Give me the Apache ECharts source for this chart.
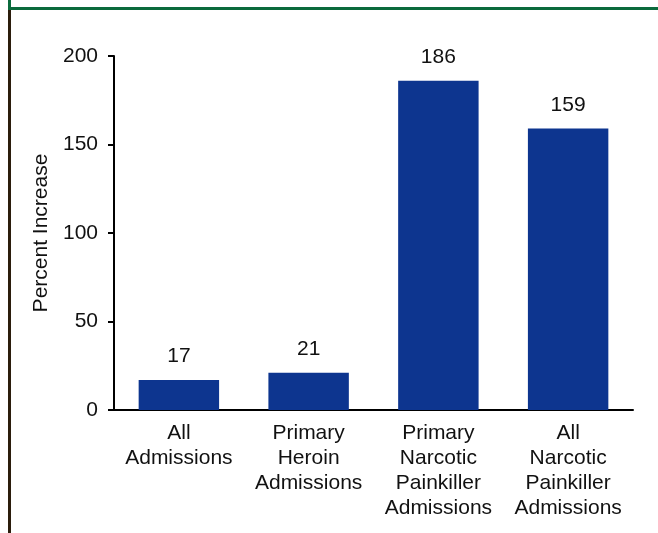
<!DOCTYPE html>
<html>
<head>
<meta charset="utf-8">
<script src="https://cdn.jsdelivr.net/npm/echarts@6/dist/echarts.min.js"></script>
<style>
  html, body { margin: 0; padding: 0; background: #ffffff; }
  #chart { width: 658px; height: 533px; }
</style>
</head>
<body>
<div id="chart"></div>
<script>
// Admission categories (multi-line labels) and their percent increases
const categories = [
  'All\nAdmissions',
  'Primary\nHeroin\nAdmissions',
  'Primary\nNarcotic\nPainkiller\nAdmissions',
  'All\nNarcotic\nPainkiller\nAdmissions'
];
const percentIncrease = [17, 21, 186, 159];
const yTicks = [0, 50, 100, 150, 200];

const FONT = 'Liberation Sans, Arial, sans-serif';
const TEXT = '#111111';

const chart = echarts.init(document.getElementById('chart'), null, { renderer: 'canvas' });

chart.setOption({
  animation: false,
  backgroundColor: '#ffffff',
  grid: { left: 114, right: 25, top: 56, bottom: 123, containLabel: false },
  graphic: [
    // frame: green rule along the top, dark rule down the left side
    { type: 'rect', shape: { x: 8, y: 0, width: 3, height: 10 }, style: { fill: '#0b6a3c' } },
    { type: 'rect', shape: { x: 8, y: 7, width: 650, height: 3 }, style: { fill: '#0b6a3c' } },
    { type: 'rect', shape: { x: 8, y: 10, width: 3, height: 523 }, style: { fill: '#2b1d0c' } }
  ],
  xAxis: {
    type: 'category',
    data: categories,
    axisLine: { lineStyle: { color: '#000000', width: 2 } },
    axisTick: { show: false },
    axisLabel: {
      interval: 0,
      margin: 11,
      color: TEXT,
      fontFamily: FONT,
      fontSize: 21,
      lineHeight: 25
    }
  },
  yAxis: {
    type: 'value',
    min: yTicks[0],
    max: yTicks[yTicks.length - 1],
    interval: 50,
    name: 'Percent Increase',
    nameLocation: 'middle',
    nameGap: 62,
    nameRotate: 90,
    nameTextStyle: { color: TEXT, fontFamily: FONT, fontSize: 21 },
    axisLine: { show: true, lineStyle: { color: '#000000', width: 2 } },
    axisTick: { show: true, length: 6, lineStyle: { color: '#000000', width: 2 } },
    splitLine: { show: false },
    axisLabel: {
      margin: 16,
      color: TEXT,
      fontFamily: FONT,
      fontSize: 21
    }
  },
  series: [{
    type: 'bar',
    data: percentIncrease,
    barWidth: '62%',
    itemStyle: { color: '#0d358f' },
    label: {
      show: true,
      position: 'top',
      distance: 13,
      color: TEXT,
      fontFamily: FONT,
      fontSize: 21
    }
  }]
});
</script>
</body>
</html>
